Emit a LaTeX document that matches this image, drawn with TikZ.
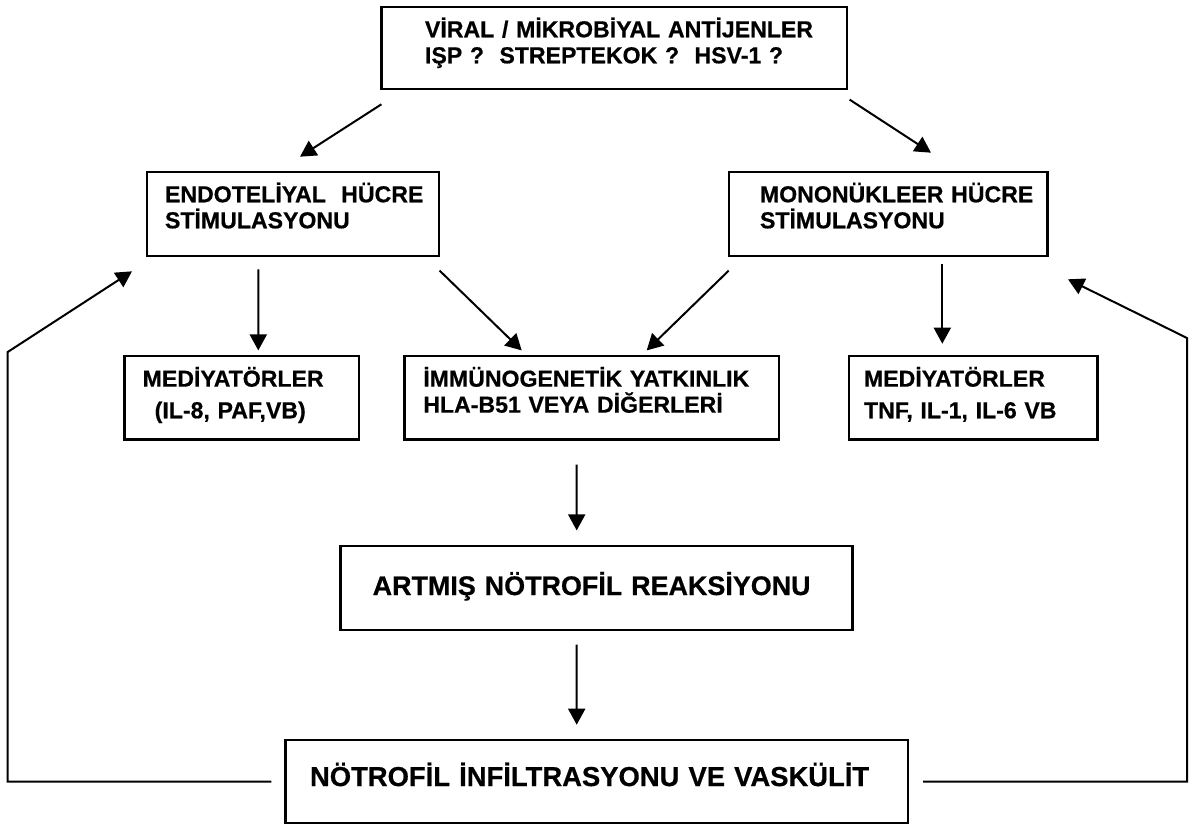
\documentclass[tikz,border=0pt]{standalone}
\usepackage{fontspec}
\setmainfont{Liberation Sans}[BoldFeatures={FakeBold=0.6}]
\usetikzlibrary{arrows.meta, calc}

\tikzset{
  box/.style={draw, line width=1.3pt, align=left, inner ysep=0pt, text height=10pt,
    font=\fontsize{11.55}{13}\selectfont\bfseries},
  bigbox/.style={box, font=\fontsize{13.45}{16}\selectfont\bfseries},
  pijl/.style={line width=1pt, -{Triangle[length=8pt, width=8.5pt]}}
}

\begin{document}
\begin{tikzpicture}[x=0.5pt, y=-0.5pt]
    \useasboundingbox (0,0) rectangle (1199,826);

    \node[box, minimum height=41pt, inner xsep=21.65pt, text width=189.35pt, text depth=20.7pt] (antigen) at (614.35,48)
      {\mbox{VİRAL / MİKROBİYAL ANTİJENLER}\\\mbox{IŞP ? \ STREPTEKOK ? \ HSV-1 ?}};
    \node[box, minimum height=42pt, inner xsep=9pt, text width=128pt, text depth=21.7pt] (endo) at (293,214)
      {\mbox{ENDOTELİYAL \ HÜCRE}\\\mbox{STİMULASYONU}};
    \node[box, minimum height=42pt, inner xsep=15.5pt, text width=128.35pt, text depth=21.7pt] (mono) at (888.35,214)
      {\mbox{MONONÜKLEER HÜCRE}\\\mbox{STİMULASYONU}};
    \node[box, minimum height=41.65pt, inner xsep=9.2pt, text width=98.95pt, text depth=21pt] (medL) at (241.65,397.65)
      {\mbox{MEDİYATÖRLER}\\[2.8pt]\mbox{\hspace{6pt}(IL-8, PAF,VB)}};
    \node[box, minimum height=41.65pt, inner xsep=9.5pt, text width=168.35pt, text depth=21pt] (immun) at (591.65,397.65)
      {\mbox{İMMÜNOGENETİK YATKINLIK}\\\mbox{HLA-B51 VEYA DİĞERLERİ}};
    \node[box, minimum height=41.65pt, inner xsep=7.5pt, text width=109.15pt, text depth=21pt] (medR) at (973.15,397.65)
      {\mbox{MEDİYATÖRLER}\\[2.8pt]\mbox{TNF, IL-1, IL-6 VB}};
    \node[bigbox, minimum height=42pt, inner xsep=16pt, text width=224pt, text depth=3pt] (artmis) at (596.7,588)
      {\mbox{ARTMIŞ NÖTROFİL REAKSİYONU}};
    \node[bigbox, minimum height=41.5pt, inner xsep=12.15pt, text width=286.85pt, text depth=5.5pt,
      font=\fontsize{13.7}{16}\selectfont\bfseries] (infil) at (596.85,781.5)
      {\mbox{NÖTROFİL İNFİLTRASYONU VE VASKÜLİT}};

    \draw[pijl] ([shift={(1,14)}]antigen.south west) -- ([shift={(7,-14)}]endo.north);
    \draw[pijl] ([shift={(1.3,9.3)}]antigen.south east) -- ([shift={(42.65,-18)}]mono.north);
    \draw[pijl] ([shift={(-34.7,12)}]endo.south) -- ([shift={(16.65,-4.3)}]medL.north);
    \draw[pijl] ([shift={(-0.7,13.3)}]endo.south east) -- ([shift={(-69.95,-4.3)}]immun.north);
    \draw[pijl] ([shift={(1,13.3)}]mono.south west) -- ([shift={(55.05,-4.3)}]immun.north);
    \draw[pijl] ([shift={(53.95,6.7)}]mono.south) -- ([shift={(-30.85,-11)}]medR.north);
    \draw[pijl] ([shift={(-14.95,24)}]immun.south) -- ([shift={(-20,-14.3)}]artmis.north);
    \draw[pijl] ([shift={(-20,13.3)}]artmis.south) -- ([shift={(-20.15,-14)}]infil.north);

    % geri besleme
    \draw[pijl] ([shift={(-13,0)}]infil.west) -- ++(-263.7,0) -- ++(0,-429.5)
      -- ([shift={(-13.7,14)}]endo.south west);
    \draw[pijl] ([shift={(13.7,0)}]infil.east) -- ++(264,0) -- ++(0,-443.5)
      -- ([shift={(19,22)}]mono.south east);
\end{tikzpicture}
\end{document}
